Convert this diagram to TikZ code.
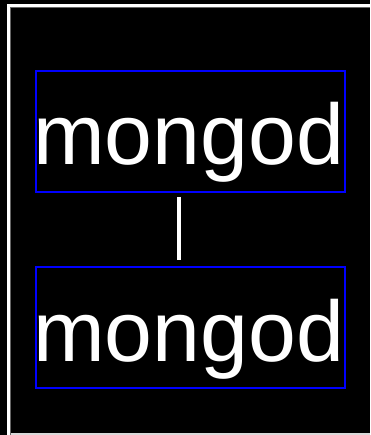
\documentclass[tikz,border=0pt]{standalone}
\usepackage{fontspec}
\setmainfont{Liberation Sans}
\begin{document}
\begin{tikzpicture}[x=1pt,y=-1pt,
  procbox/.style={draw=blue, line width=2pt, text=white, font=\fontsize{86}{86}\selectfont,
    minimum width=309pt, minimum height=121pt, inner sep=0pt,
    text height=72pt, text depth=5pt},
  link/.style={draw=white, line width=4pt}]
\useasboundingbox (0,0) rectangle (370,435);
\fill[black] (0,0) rectangle (370,435);
% frame
\fill[white] (7,4) rectangle (370,7);
\fill[white] (7,4) rectangle (10,435);
\fill[black!60] (10,7) rectangle (370,8);
\fill[black!60] (10,7) rectangle (11,435);
\fill[black!15] (11,433) rectangle (370,434.5);
% boxes
\node[procbox] (a) at (190.5,131.5) {\kern-4pt mongod};
\node[procbox] (b) at (190.5,327.5) {\kern-4pt mongod};
\draw[link, shorten <=4pt, shorten >=6pt] ([xshift=-11.5pt]a.south) -- ([xshift=-11.5pt]b.north);
\end{tikzpicture}
\end{document}
